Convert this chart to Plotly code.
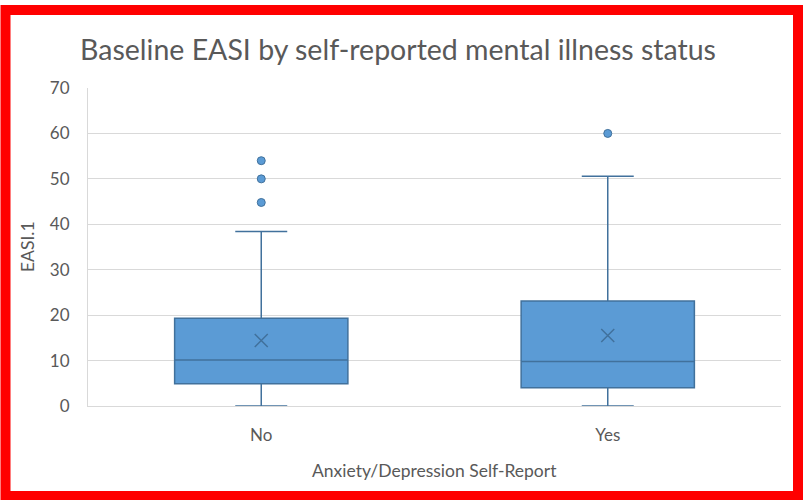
import plotly.graph_objects as go

# Box statistics for baseline EASI per self-report group
groups = ["No", "Yes"]
q1 = [4.9, 4.0]
median = [10.1, 9.8]
q3 = [19.3, 23.1]
lower_whisker = [0.0, 0.0]
upper_whisker = [38.4, 50.6]
means = [14.4, 15.5]

# Outlying observations
outlier_groups = ["No", "No", "No", "Yes"]
outlier_values = [54.0, 50.0, 44.8, 60.0]

y_ticks = [0, 10, 20, 30, 40, 50, 60, 70]

FILL = "#5B9BD5"
EDGE = "#41719C"
TEXT = "#595959"
GRID = "#D9D9D9"
FONT = "Lato"

W, H = 804, 500
L, R, T, B = 88, 23, 88, 94
PW, PH = W - L - R, H - T - B


def px_x(px):
    return (px - L) / PW


def px_y(py):
    return (H - B - py) / PH


fig = go.Figure()

fig.add_trace(go.Box(
    x=groups,
    q1=q1,
    median=median,
    q3=q3,
    lowerfence=lower_whisker,
    upperfence=upper_whisker,
    width=0.5,
    whiskerwidth=0.3,
    fillcolor=FILL,
    line=dict(color=EDGE, width=1.5),
    boxpoints=False,
    showlegend=False,
    hoverinfo="skip",
))

fig.add_trace(go.Scatter(
    x=groups,
    y=means,
    mode="markers",
    marker=dict(symbol="x-thin-open", size=13, color=EDGE,
                line=dict(color=EDGE, width=1.5)),
    showlegend=False,
    hoverinfo="skip",
))

fig.add_trace(go.Scatter(
    x=outlier_groups,
    y=outlier_values,
    mode="markers",
    marker=dict(symbol="circle", size=8, color=FILL,
                line=dict(color=EDGE, width=1)),
    showlegend=False,
    hoverinfo="skip",
    cliponaxis=False,
))

fig.update_layout(
    width=W,
    height=H,
    margin=dict(l=L, r=R, t=T, b=B),
    paper_bgcolor="white",
    plot_bgcolor="white",
    font=dict(family=FONT, color=TEXT),
    title=dict(
        text="Baseline EASI by self-reported mental illness status",
        font=dict(family=FONT, size=28.5, color=TEXT),
        x=398 / W,
        xanchor="center",
        xref="container",
        y=1 - 50 / H,
        yanchor="middle",
        yref="container",
    ),
    xaxis=dict(
        type="category",
        range=[-0.5, 1.5],
        showgrid=False,
        showline=True,
        linecolor=GRID,
        linewidth=1,
        ticks="",
        tickfont=dict(size=17, color=TEXT),
        ticklabelstandoff=14,
    ),
    yaxis=dict(
        range=[0, 70],
        tickvals=y_ticks,
        showgrid=True,
        gridcolor=GRID,
        gridwidth=1,
        zeroline=False,
        showline=True,
        linecolor=GRID,
        linewidth=1,
        ticks="",
        tickfont=dict(size=17, color=TEXT),
        ticklabelstandoff=14,
    ),
    annotations=[
        dict(text="EASI.1", x=px_x(27), y=px_y(247), xref="paper", yref="paper",
             textangle=-90, showarrow=False, font=dict(size=17.5, color=TEXT),
             xanchor="center", yanchor="middle"),
        dict(text="Anxiety/Depression Self-Report", x=0.5, y=px_y(470),
             xref="paper", yref="paper", showarrow=False,
             font=dict(size=17.5, color=TEXT), xanchor="center", yanchor="middle"),
    ],
    shapes=[
        dict(type="rect", xref="paper", yref="paper",
             x0=px_x(5.5), x1=px_x(798), y0=px_y(10), y1=px_y(496),
             line=dict(color="#FF0000", width=10), fillcolor="rgba(0,0,0,0)",
             layer="above"),
    ],
)

fig.write_html("out.html")
